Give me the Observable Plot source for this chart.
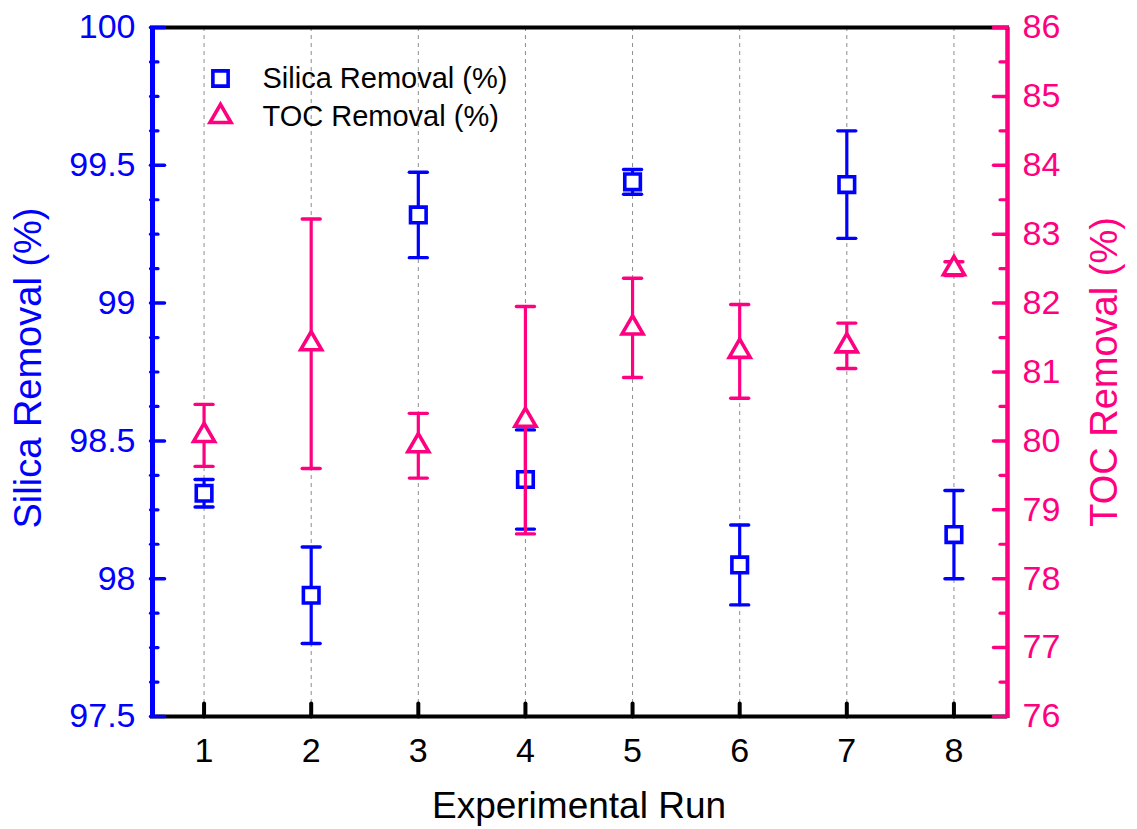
<!DOCTYPE html>
<html>
<head>
<meta charset="utf-8">
<script src="https://cdn.jsdelivr.net/npm/d3@7"></script>
<script src="https://cdn.jsdelivr.net/npm/@observablehq/plot@0.6"></script>
<style>
  body { margin: 0; background: #fff; }
  #chart svg { display: block; }
</style>
</head>
<body>
<div id="chart"></div>
<script>
// ---- data ----
const runs = [1, 2, 3, 4, 5, 6, 7, 8];
const xTickLabels = ["1", "2", "3", "4", "5", "6", "7", "8"];
const silicaMean = [98.31, 97.94, 99.32, 98.36, 99.44, 98.05, 99.43, 98.16];
const silicaErr  = [0.05, 0.175, 0.155, 0.18, 0.045, 0.145, 0.195, 0.16];
const tocMean = [80.08, 81.41, 79.93, 80.30, 81.64, 81.30, 81.38, 82.50];
const tocErr  = [0.45, 1.81, 0.47, 1.65, 0.72, 0.68, 0.33, 0.10];
const leftTicks = [97.5, 98, 98.5, 99, 99.5, 100];
const leftTickLabels = ["97.5", "98", "98.5", "99", "99.5", "100"];
const rightTicks = [76, 77, 78, 79, 80, 81, 82, 83, 84, 85, 86];
const rightTickLabels = ["76", "77", "78", "79", "80", "81", "82", "83", "84", "85", "86"];
const seriesNames = ["Silica Removal (%)", "TOC Removal (%)"];
const xTitle = "Experimental Run";
const leftTitle = "Silica Removal (%)";
const rightTitle = "TOC Removal (%)";

// ---- styles ----
const BLUE = "#0000FF";
const PINK = "#FF0080";
const FONT = "'Liberation Sans', Arial, Helvetica, sans-serif";

// right axis (76–86) mapped onto the left y scale (97.5–100)
const toLeft = v => 97.5 + (v - 76) * 0.25;

const silica = runs.map((r, i) => ({
  run: r, y: silicaMean[i], lo: silicaMean[i] - silicaErr[i], hi: silicaMean[i] + silicaErr[i]
}));
const toc = runs.map((r, i) => ({
  run: r, y: toLeft(tocMean[i]), lo: toLeft(tocMean[i] - tocErr[i]), hi: toLeft(tocMean[i] + tocErr[i])
}));

const rightTickPos = rightTicks.map(toLeft);
const leftMinor = d3.range(0, 21).map(i => 97.5 + i * 0.125).filter(v => !leftTicks.includes(v));
const rightMinor = d3.range(0, 10).map(i => toLeft(76.5 + i));

const stemUp = { draw(ctx, l) { ctx.moveTo(0, 0); ctx.lineTo(0, -l); } };
const capShape = { draw(ctx, l) { ctx.moveTo(-l / 2, 0); ctx.lineTo(l / 2, 0); } };

function errorMarks(data, color) {
  return [
    Plot.ruleX(data, { x: "run", y1: "lo", y2: "hi", stroke: color, strokeWidth: 3.2 }),
    Plot.vector(data, { x: "run", y: "hi", length: 18, shape: capShape, anchor: "start", stroke: color, strokeWidth: 3.4 }),
    Plot.vector(data, { x: "run", y: "lo", length: 18, shape: capShape, anchor: "start", stroke: color, strokeWidth: 3.4 })
  ];
}

const chart = Plot.plot({
  width: 1137,
  height: 829,
  marginLeft: 150,
  marginRight: 130,
  marginTop: 27,
  marginBottom: 113,
  style: { fontFamily: FONT, background: "white", overflow: "visible" },
  x: { domain: [0.5, 8.5] },
  y: { domain: [97.5, 100] },
  marks: [
    // dashed vertical grid
    Plot.ruleX(runs, { stroke: "#8c8c8c", strokeWidth: 1, strokeDasharray: "4,4" }),

    // silica series
    ...errorMarks(silica, BLUE),
    Plot.dot(silica, { x: "run", y: "y", symbol: "square", r: 8.8, stroke: BLUE, strokeWidth: 3.6, fill: "white", strokeLinejoin: "miter" }),

    // TOC series
    ...errorMarks(toc, PINK),
    Plot.dot(toc, { x: "run", y: "y", symbol: "triangle", r: 7.8, stroke: PINK, strokeWidth: 3.6, fill: "white", strokeLinejoin: "miter" }),

    // axis lines
    Plot.ruleY([97.5], { stroke: "black", strokeWidth: 4 }),
    Plot.ruleX([0.5], { stroke: BLUE, strokeWidth: 5, dx: 2, insetBottom: -2 }),
    Plot.ruleX([8.5], { stroke: PINK, strokeWidth: 4.5, insetBottom: -2 }),
    Plot.ruleY([100], { stroke: "black", strokeWidth: 4, insetRight: -2 }),

    // inward tick marks
    Plot.vector(leftTicks, { y: d => d, frameAnchor: "left", rotate: 90, length: 14, shape: stemUp, anchor: "start", stroke: BLUE, strokeWidth: 3.5 }),
    Plot.vector(leftMinor, { y: d => d, frameAnchor: "left", rotate: 90, length: 7.5, shape: stemUp, anchor: "start", stroke: BLUE, strokeWidth: 3.2 }),
    Plot.vector(rightTickPos, { y: d => d, frameAnchor: "right", rotate: -90, length: 14, shape: stemUp, anchor: "start", stroke: PINK, strokeWidth: 3.5 }),
    Plot.vector(rightMinor, { y: d => d, frameAnchor: "right", rotate: -90, length: 7.5, shape: stemUp, anchor: "start", stroke: PINK, strokeWidth: 3.2 }),
    Plot.vector(runs, { x: d => d, frameAnchor: "bottom", length: 13, shape: stemUp, anchor: "start", stroke: "black", strokeWidth: 4 }),

    // tick labels
    Plot.axisY({ anchor: "left", ticks: leftTicks, tickFormat: d => leftTickLabels[leftTicks.indexOf(d)], tickSize: 0, tickPadding: 15, fontSize: 34, fill: BLUE, label: null }),
    Plot.axisY({ anchor: "right", ticks: rightTickPos, tickFormat: d => rightTickLabels[rightTickPos.indexOf(d)], tickSize: 0, tickPadding: 15, fontSize: 34, fill: PINK, label: null }),
    Plot.axisX({ anchor: "bottom", ticks: runs, tickFormat: d => xTickLabels[runs.indexOf(d)], tickSize: 0, tickPadding: 21, fontSize: 34, fill: "black", label: null }),

    // axis titles
    Plot.text([leftTitle], { text: d => d, frameAnchor: "left", dx: -121.5, dy: -4, rotate: -90, fontSize: 38, fill: BLUE, textAnchor: "middle", lineAnchor: "middle" }),
    Plot.text([rightTitle], { text: d => d, frameAnchor: "right", dx: 97, dy: 0, rotate: -90, fontSize: 38, fill: PINK, textAnchor: "middle", lineAnchor: "middle" }),
    Plot.text([xTitle], { text: d => d, frameAnchor: "bottom", dy: 90, fontSize: 37, fill: "black", textAnchor: "middle", lineAnchor: "middle" }),

    // legend
    Plot.dot([seriesNames[0]], { frameAnchor: "top-left", dx: 70, dy: 51, symbol: "square", r: 8.6, stroke: BLUE, strokeWidth: 3.6, fill: "white", strokeLinejoin: "miter" }),
    Plot.dot([seriesNames[1]], { frameAnchor: "top-left", dx: 70, dy: 89, symbol: "triangle", r: 7.8, stroke: PINK, strokeWidth: 3.6, fill: "white", strokeLinejoin: "miter" }),
    Plot.text([seriesNames[0]], { text: d => d, frameAnchor: "top-left", dx: 112, dy: 51, fontSize: 29, fill: "black", textAnchor: "start", lineAnchor: "middle" }),
    Plot.text([seriesNames[1]], { text: d => d, frameAnchor: "top-left", dx: 112, dy: 89, fontSize: 29, fill: "black", textAnchor: "start", lineAnchor: "middle" })
  ]
});
document.getElementById("chart").appendChild(chart);
</script>
</body>
</html>
